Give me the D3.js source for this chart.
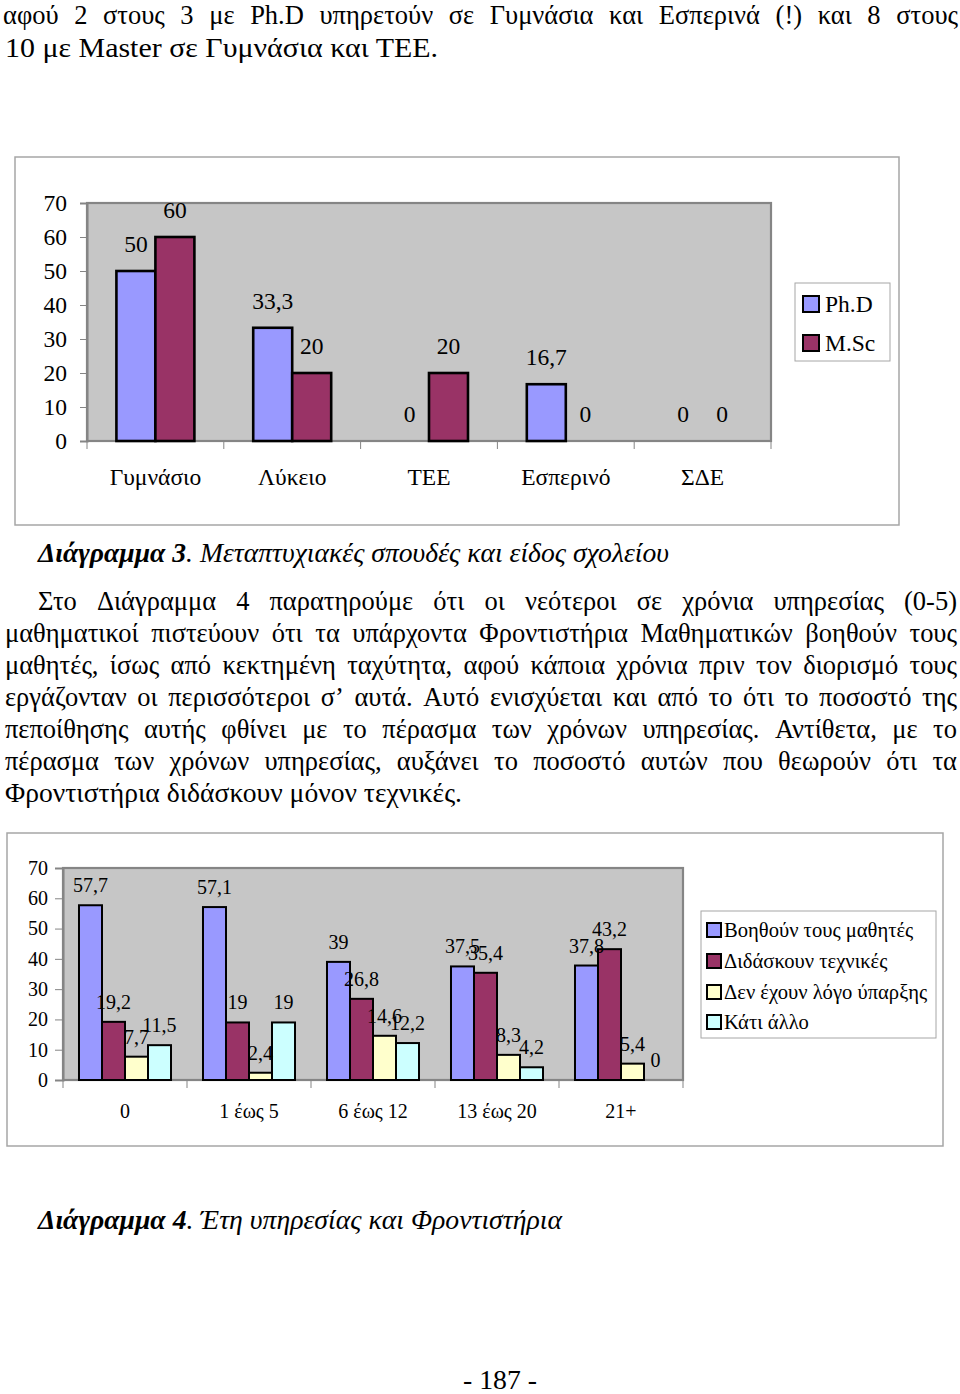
<!DOCTYPE html>
<html>
<head>
<meta charset="utf-8">
<script src="https://cdn.jsdelivr.net/npm/d3@7"></script>
<style>
  html, body { margin: 0; padding: 0; background: #fff; }
  svg { display: block; }
  text { font-family: "Liberation Serif", "Times New Roman", serif; fill: #000; }
</style>
</head>
<body>
<svg id="page" width="960" height="1394"></svg>
<script>
// ---------- DATA ----------
// Chart 1 (Διάγραμμα 3)
const schools = ["Γυμνάσιο", "Λύκειο", "ΤΕΕ", "Εσπερινό", "ΣΔΕ"];
const phdValues = [50, 33.3, 0, 16.7, 0];
const mscValues = [60, 20, 20, 0, 0];
const series1 = ["Ph.D", "M.Sc"];
const yTicks1 = [0, 10, 20, 30, 40, 50, 60, 70];

// Chart 2 (Διάγραμμα 4)
const years = ["0", "1 έως 5", "6 έως 12", "13 έως 20", "21+"];
const helpValues = [57.7, 57.1, 39, 37.5, 37.8];
const teachValues = [19.2, 19, 26.8, 35.4, 43.2];
const noReasonValues = [7.7, 2.4, 14.6, 8.3, 5.4];
const otherValues = [11.5, 19, 12.2, 4.2, 0];
const series2 = ["Βοηθούν τους μαθητές", "Διδάσκουν τεχνικές", "Δεν έχουν λόγο ύπαρξης", "Κάτι άλλο"];
const yTicks2 = [0, 10, 20, 30, 40, 50, 60, 70];

// Text
const topLines = [
  "αφού 2 στους 3 με Ph.D υπηρετούν σε Γυμνάσια και Εσπερινά (!) και 8 στους",
  "10 με Master σε Γυμνάσια και ΤΕΕ."
];
const paraLines = [
  "Στο Διάγραμμα 4 παρατηρούμε ότι οι νεότεροι σε χρόνια υπηρεσίας (0-5)",
  "μαθηματικοί πιστεύουν ότι τα υπάρχοντα Φροντιστήρια Μαθηματικών βοηθούν τους",
  "μαθητές, ίσως από κεκτημένη ταχύτητα, αφού κάποια χρόνια πριν τον διορισμό τους",
  "εργάζονταν οι περισσότεροι σ’ αυτά. Αυτό ενισχύεται και από το ότι το ποσοστό της",
  "πεποίθησης αυτής φθίνει με το πέρασμα των χρόνων υπηρεσίας. Αντίθετα, με το",
  "πέρασμα των χρόνων υπηρεσίας, αυξάνει το ποσοστό αυτών που θεωρούν ότι τα",
  "Φροντιστήρια διδάσκουν μόνον τεχνικές."
];

// ---------- HELPERS ----------
const svg = d3.select("#page");
svg.append("rect").attr("width", 960).attr("height", 1394).attr("fill", "#fff");
const fmt = v => String(v).replace(".", ",");
const tall = 1.04; // the scanned body text is slightly vertically stretched

function textLine(str, x0, x1, y, size, justify) {
  const g = svg.append("g");
  const fs = size * tall;
  if (!justify) {
    const t = g.append("text").attr("x", x0).attr("y", y).attr("font-size", fs).text(str);
    t.attr("textLength", x1 - x0).attr("lengthAdjust", "spacingAndGlyphs");
    return;
  }
  const words = str.split(" ");
  const nodes = words.map(w => g.append("text").attr("y", y).attr("font-size", fs).text(w));
  const widths = nodes.map(n => n.node().getComputedTextLength() / tall);
  const total = d3.sum(widths);
  const avail = x1 - x0;
  let gap = (avail - total) / (words.length - 1);
  let scale = 1;
  if (gap < 3) { gap = 3; scale = (avail - gap * (words.length - 1)) / total; }
  let x = x0;
  nodes.forEach((n, i) => {
    n.attr("x", x).attr("textLength", widths[i] * scale).attr("lengthAdjust", "spacingAndGlyphs");
    x += widths[i] * scale + gap;
  });
}

function caption(boldPart, rest, x0, x1, y, size) {
  const t = svg.append("text").attr("x", x0).attr("y", y).attr("font-size", size * tall).attr("font-style", "italic");
  t.append("tspan").attr("font-weight", "bold").text(boldPart);
  t.append("tspan").text(rest);
  t.attr("textLength", x1 - x0).attr("lengthAdjust", "spacingAndGlyphs");
}

function barChart(cfg) {
  const { box, plot, cats, seriesNames, values, colors, ticks, fontSize, groupFrac,
          stroke, labelOffset, yLabelRight, tickLen, legend } = cfg;
  // outer box
  svg.append("rect").attr("x", box[0]).attr("y", box[1])
    .attr("width", box[2] - box[0]).attr("height", box[3] - box[1])
    .attr("fill", "#fff").attr("stroke", "#a6a6a6").attr("stroke-width", 1.5);

  const x0 = d3.scaleBand().domain(cats).range([plot[0], plot[2]]).padding(0);
  const groupW = x0.bandwidth() * groupFrac;
  const x1 = d3.scaleBand().domain(seriesNames).range([0, groupW]).padding(0);
  const y = d3.scaleLinear().domain([0, 70]).range([plot[3], plot[1]]);

  // plot area
  svg.append("rect").attr("x", plot[0]).attr("y", plot[1])
    .attr("width", plot[2] - plot[0]).attr("height", plot[3] - plot[1])
    .attr("fill", "#c6c6c6").attr("stroke", "#858585").attr("stroke-width", 2.2);

  // y axis
  const yAxis = d3.axisLeft(y).tickValues(ticks).tickSize(tickLen)
    .tickPadding(plot[0] - tickLen - yLabelRight).tickFormat(d3.format("d"));
  const ya = svg.append("g").attr("transform", `translate(${plot[0]},0)`).call(yAxis);
  ya.select(".domain").attr("stroke", "#858585").attr("stroke-width", 2);
  ya.selectAll(".tick line").attr("stroke", "#858585").attr("stroke-width", 1);
  ya.selectAll(".tick text").attr("font-family", "Liberation Serif").attr("font-size", fontSize).attr("fill", "#000");

  // x axis line + boundary ticks
  svg.append("line").attr("x1", plot[0]).attr("x2", plot[2]).attr("y1", plot[3]).attr("y2", plot[3])
    .attr("stroke", "#858585").attr("stroke-width", 2);
  const bounds = cats.map(c => x0(c)).concat([plot[2]]);
  svg.selectAll(null).data(bounds).enter().append("line")
    .attr("x1", d => d).attr("x2", d => d).attr("y1", plot[3]).attr("y2", plot[3] + 8)
    .attr("stroke", "#858585").attr("stroke-width", 1);
  const xa = svg.append("g").attr("transform", `translate(0,${plot[3]})`)
    .call(d3.axisBottom(x0).tickSize(0).tickPadding(cfg.xLabelPad));
  xa.select(".domain").remove();
  xa.selectAll(".tick text").attr("font-family", "Liberation Serif").attr("font-size", fontSize).attr("fill", "#000");

  // bars
  const flat = [];
  cats.forEach((c, i) => seriesNames.forEach((s, j) => flat.push({ c, s, j, v: values[j][i] })));
  const off = (x0.bandwidth() - groupW) / 2;
  svg.append("g").selectAll("rect").data(flat.filter(d => d.v > 0)).enter().append("rect")
    .attr("x", d => x0(d.c) + off + x1(d.s))
    .attr("y", d => y(d.v))
    .attr("width", x1.bandwidth())
    .attr("height", d => y(0) - y(d.v))
    .attr("fill", d => colors[d.j]).attr("stroke", "#000").attr("stroke-width", stroke);
  // labels
  svg.append("g").selectAll("text").data(flat).enter().append("text")
    .attr("x", d => x0(d.c) + off + x1(d.s) + x1.bandwidth() / 2)
    .attr("y", d => y(d.v) - labelOffset)
    .attr("text-anchor", "middle").attr("font-size", fontSize)
    .text(d => fmt(d.v));

  // legend
  const L = legend;
  svg.append("rect").attr("x", L.box[0]).attr("y", L.box[1])
    .attr("width", L.box[2] - L.box[0]).attr("height", L.box[3] - L.box[1])
    .attr("fill", "#fff").attr("stroke", "#a6a6a6").attr("stroke-width", 1);
  seriesNames.forEach((s, j) => {
    const cy = L.rows[j];
    svg.append("rect").attr("x", L.sqX).attr("y", cy - L.sq / 2).attr("width", L.sq).attr("height", L.sq)
      .attr("fill", colors[j]).attr("stroke", "#000").attr("stroke-width", 2);
    svg.append("text").attr("x", L.textX).attr("y", cy).attr("dy", "0.34em")
      .attr("font-size", L.fontSize).text(s);
  });
}

// ---------- PAGE ----------
const bodySize = 26.5;
textLine(topLines[0], 3, 958, 24, bodySize, true);
textLine(topLines[1], 5, 438, 57, bodySize, false);

barChart({
  box: [15, 157, 899, 525],
  plot: [87, 203, 771, 441],
  cats: schools, seriesNames: series1, values: [phdValues, mscValues],
  colors: ["#9999ff", "#993366"], ticks: yTicks1, fontSize: 23.5, groupFrac: 0.57,
  stroke: 2.6, labelOffset: 19, yLabelRight: 67, tickLen: 7, xLabelPad: 27,
  legend: { box: [795, 283, 890, 361], rows: [304, 343], sq: 16, sqX: 803, textX: 825, fontSize: 23.5 }
});

caption("Διάγραμμα 3", ". Μεταπτυχιακές σπουδές και είδος σχολείου", 38, 669, 562, 25.5);

paraLines.forEach((ln, i) => {
  const y = 610 + i * 32;
  if (i === 0) textLine(ln, 38, 957, y, bodySize, true);
  else if (i < paraLines.length - 1) textLine(ln, 5, 957, y, bodySize, true);
  else textLine(ln, 5, 462, y, bodySize, false);
});

barChart({
  box: [7, 833, 943, 1146],
  plot: [63, 868, 683, 1080],
  cats: years, seriesNames: series2, values: [helpValues, teachValues, noReasonValues, otherValues],
  colors: ["#9999ff", "#993366", "#ffffcc", "#ccffff"], ticks: yTicks2, fontSize: 20, groupFrac: 0.742,
  stroke: 2, labelOffset: 13, yLabelRight: 48, tickLen: 8, xLabelPad: 24,
  legend: { box: [701, 911, 936, 1038], rows: [930, 961, 992, 1022], sq: 14, sqX: 707, textX: 724, fontSize: 20.6 }
});

caption("Διάγραμμα 4", ". Έτη υπηρεσίας και Φροντιστήρια", 38, 562, 1229, 25.5);

svg.append("text").attr("x", 500).attr("y", 1389).attr("text-anchor", "middle")
  .attr("font-size", 26 * tall).attr("textLength", 74).attr("lengthAdjust", "spacingAndGlyphs")
  .text("- 187 -");
</script>
</body>
</html>
